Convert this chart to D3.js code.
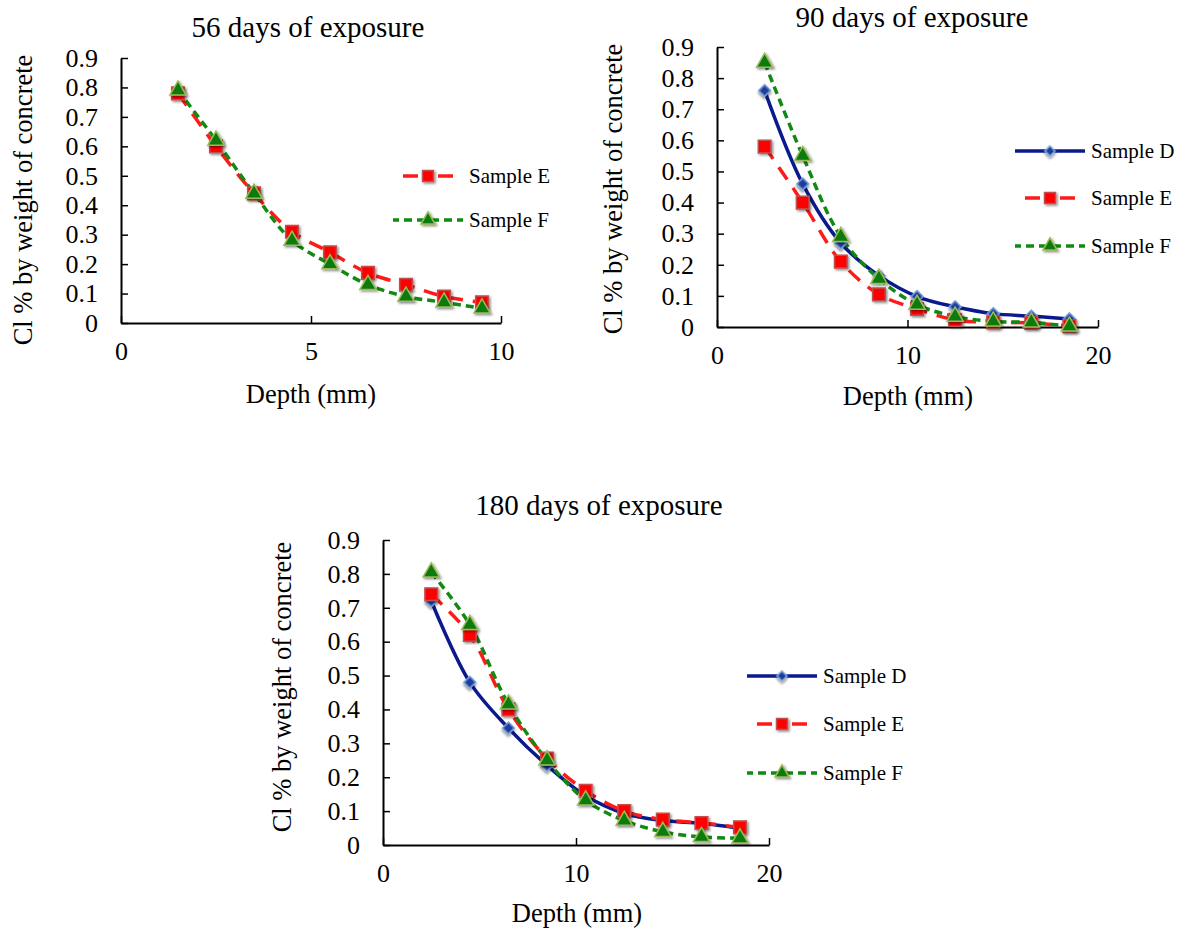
<!DOCTYPE html>
<html>
<head>
<meta charset="utf-8">
<script src="https://cdn.jsdelivr.net/npm/d3@7"></script>
<style>
  body { margin: 0; background: #fff; }
  svg { display: block; font-family: "Liberation Serif", "Times New Roman", serif; }
</style>
</head>
<body>
<svg id="chart" width="1180" height="930"></svg>
<script>
/* depth of each slice (mm) */
const depth56 = [1.5, 2.5, 3.5, 4.5, 5.5, 6.5, 7.5, 8.5, 9.5];
const depthLong = [2.5, 4.5, 6.5, 8.5, 10.5, 12.5, 14.5, 16.5, 18.5];

/* Cl % by weight of concrete */
const sampleE56 = [0.78, 0.60, 0.44, 0.31, 0.24, 0.17, 0.13, 0.09, 0.07];
const sampleF56 = [0.79, 0.62, 0.44, 0.28, 0.20, 0.13, 0.09, 0.07, 0.05];

const sampleD90 = [0.76, 0.46, 0.27, 0.165, 0.098, 0.065, 0.043, 0.035, 0.026];
const sampleE90 = [0.58, 0.40, 0.21, 0.105, 0.058, 0.023, 0.015, 0.013, 0.003];
const sampleF90 = [0.85, 0.55, 0.29, 0.155, 0.072, 0.034, 0.018, 0.015, 0.002];

const sampleD180 = [0.72, 0.48, 0.345, 0.235, 0.145, 0.093, 0.072, 0.064, 0.049];
const sampleE180 = [0.74, 0.62, 0.40, 0.255, 0.16, 0.10, 0.075, 0.065, 0.052];
const sampleF180 = [0.805, 0.65, 0.415, 0.25, 0.132, 0.072, 0.039, 0.024, 0.02];

const yTicks = [0, 0.1, 0.2, 0.3, 0.4, 0.5, 0.6, 0.7, 0.8, 0.9];
const xTicks56 = [0, 5, 10];
const xTicksLong = [0, 10, 20];

const svg = d3.select("#chart");

/* soft shadow under markers */
const defs = svg.append("defs");
defs.append("filter")
    .attr("id", "shadow")
    .attr("x", "-50%").attr("y", "-50%")
    .attr("width", "200%").attr("height", "200%")
    .append("feDropShadow")
    .attr("dx", 1.5).attr("dy", 1.5)
    .attr("stdDeviation", 1.2)
    .attr("flood-color", "#000")
    .attr("flood-opacity", 0.45);

/* style per sample; the diamond is a square turned 45 degrees */
const styles = {
    "Sample D": { line: "#0a1a8c", dash: null, width: 3.5, rotate: 45,
                  symbol: d3.symbolSquare, size: 70, fill: "#1c3c9c", edge: "#7fa6dc" },
    "Sample E": { line: "#ff1a1a", dash: "15,10", width: 3.5, rotate: 0,
                  symbol: d3.symbolSquare, size: 160, fill: "#ff0000", edge: "#c0504d" },
    "Sample F": { line: "#108a10", dash: "8,5", width: 3.5, rotate: 0,
                  symbol: d3.symbolTriangle, size: 115, fill: "#0a7a0a", edge: "#9bbb59" }
};

function drawPanel(p) {
    const g = svg.append("g");

    const x = d3.scaleLinear().domain(p.xDomain).range([p.left, p.right]);
    const y = d3.scaleLinear().domain([0, 0.9]).range([p.bottom, p.top]);

    /* y axis with inside ticks */
    const yAxis = d3.axisLeft(y)
        .tickValues(yTicks)
        .tickFormat(d => d === 0 ? "0" : d3.format(".1f")(d))
        .tickSizeInner(-7)
        .tickSizeOuter(0)
        .tickPadding(23);

    g.append("g")
        .attr("transform", "translate(" + p.left + ",0)")
        .call(yAxis)
        .call(a => a.select(".domain").attr("stroke-width", 2))
        .call(a => a.selectAll(".tick line").attr("stroke-width", 1.5))
        .call(a => a.selectAll("text")
            .attr("font-family", "Liberation Serif")
            .attr("font-size", 26)
            .attr("fill", "#000"));

    /* x axis with inside ticks */
    const xAxis = d3.axisBottom(x)
        .tickValues(p.xTicks)
        .tickSizeInner(-7)
        .tickSizeOuter(0)
        .tickPadding(19);

    g.append("g")
        .attr("transform", "translate(0," + p.bottom + ")")
        .call(xAxis)
        .call(a => a.select(".domain").attr("stroke-width", 2))
        .call(a => a.selectAll(".tick line").attr("stroke-width", 1.5))
        .call(a => a.selectAll("text")
            .attr("font-family", "Liberation Serif")
            .attr("font-size", 26)
            .attr("fill", "#000"));

    /* title */
    g.append("text")
        .attr("x", p.titleX)
        .attr("y", p.titleY)
        .attr("text-anchor", "middle")
        .attr("font-size", 29)
        .text(p.title);

    /* x axis label */
    g.append("text")
        .attr("x", p.xLabelX)
        .attr("y", p.xLabelY)
        .attr("text-anchor", "middle")
        .attr("font-size", 26.5)
        .text("Depth (mm)");

    /* y axis label */
    g.append("text")
        .attr("transform", "translate(" + p.yLabelX + "," + p.yLabelY + ") rotate(-90)")
        .attr("text-anchor", "middle")
        .attr("dy", "0.35em")
        .attr("font-size", 26.5)
        .text("Cl % by weight of concrete");

    const line = d3.line()
        .x(d => x(d[0]))
        .y(d => y(d[1]))
        .curve(d3.curveCatmullRom.alpha(0.5));

    /* lines first, then markers on top */
    p.series.forEach(s => {
        const st = styles[s.name];
        const pts = p.depth.map((dv, i) => [dv, s.values[i]]);
        g.append("path")
            .datum(pts)
            .attr("d", line)
            .attr("fill", "none")
            .attr("stroke", st.line)
            .attr("stroke-width", st.width)
            .attr("stroke-dasharray", st.dash);
    });

    p.series.forEach(s => {
        const st = styles[s.name];
        const pts = p.depth.map((dv, i) => [dv, s.values[i]]);
        g.selectAll(null)
            .data(pts)
            .enter()
            .append("path")
            .attr("transform", d => "translate(" + x(d[0]) + "," + y(d[1]) + ") rotate(" + st.rotate + ")")
            .attr("d", d3.symbol().type(st.symbol).size(st.size))
            .attr("fill", st.fill)
            .attr("stroke", st.edge)
            .attr("stroke-width", 1.5)
            .attr("filter", "url(#shadow)");
    });

    /* legend */
    p.series.forEach((s, i) => {
        const st = styles[s.name];
        const ly = p.legendY[i];
        const mid = (p.legendX1 + p.legendX2) / 2;
        if (st.dash) {
            /* dashes drawn out from the marker on each side */
            const off = s.name === "Sample E" ? -10 : -3;
            g.append("line")
                .attr("x1", mid).attr("x2", p.legendX1)
                .attr("y1", ly).attr("y2", ly)
                .attr("stroke", st.line)
                .attr("stroke-width", st.width)
                .attr("stroke-dasharray", st.dash)
                .attr("stroke-dashoffset", off);
            g.append("line")
                .attr("x1", mid).attr("x2", p.legendX2)
                .attr("y1", ly).attr("y2", ly)
                .attr("stroke", st.line)
                .attr("stroke-width", st.width)
                .attr("stroke-dasharray", st.dash)
                .attr("stroke-dashoffset", off);
        } else {
            g.append("line")
                .attr("x1", p.legendX1).attr("x2", p.legendX2)
                .attr("y1", ly).attr("y2", ly)
                .attr("stroke", st.line)
                .attr("stroke-width", st.width);
        }
        g.append("path")
            .attr("transform", "translate(" + mid + "," + ly + ") rotate(" + st.rotate + ")")
            .attr("d", d3.symbol().type(st.symbol).size(st.size * 0.75))
            .attr("fill", st.fill)
            .attr("stroke", st.edge)
            .attr("stroke-width", 1.5)
            .attr("filter", "url(#shadow)");
        g.append("text")
            .attr("x", p.legendX2 + 6)
            .attr("y", ly)
            .attr("dy", "0.35em")
            .attr("font-size", 21)
            .text(s.name);
    });
}

drawPanel({
    title: "56 days of exposure", titleX: 308, titleY: 37,
    left: 121, right: 501, top: 58, bottom: 323,
    xDomain: [0, 10], xTicks: xTicks56, depth: depth56,
    xLabelX: 311, xLabelY: 403, yLabelX: 23, yLabelY: 200,
    legendX1: 393, legendX2: 463, legendY: [176, 220],
    series: [
        { name: "Sample E", values: sampleE56 },
        { name: "Sample F", values: sampleF56 }
    ]
});

drawPanel({
    title: "90 days of exposure", titleX: 912, titleY: 27,
    left: 717, right: 1098, top: 47, bottom: 327,
    xDomain: [0, 20], xTicks: xTicksLong, depth: depthLong,
    xLabelX: 908, xLabelY: 405, yLabelX: 613, yLabelY: 189,
    legendX1: 1015, legendX2: 1085, legendY: [151, 198, 246],
    series: [
        { name: "Sample D", values: sampleD90 },
        { name: "Sample E", values: sampleE90 },
        { name: "Sample F", values: sampleF90 }
    ]
});

drawPanel({
    title: "180 days of exposure", titleX: 599, titleY: 515,
    left: 383, right: 769, top: 540, bottom: 845,
    xDomain: [0, 20], xTicks: xTicksLong, depth: depthLong,
    xLabelX: 577, xLabelY: 922, yLabelX: 282, yLabelY: 687,
    legendX1: 747, legendX2: 817, legendY: [676, 724, 773],
    series: [
        { name: "Sample D", values: sampleD180 },
        { name: "Sample E", values: sampleE180 },
        { name: "Sample F", values: sampleF180 }
    ]
});
</script>
</body>
</html>
